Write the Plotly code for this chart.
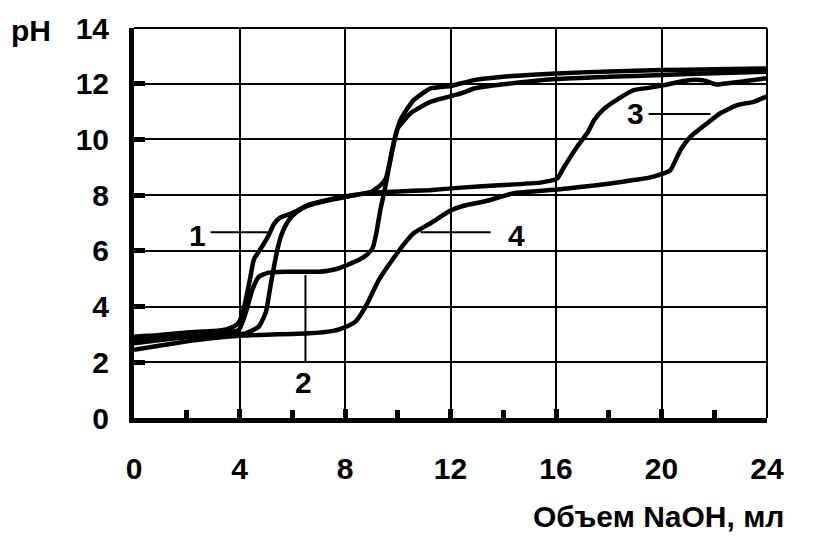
import plotly.graph_objects as go

# Titration curves: volume of NaOH (ml) vs pH
vol_1 = [0, 1, 2, 3, 3.5, 3.9, 4.1, 4.25, 4.4, 4.55, 4.75, 4.95, 5.1, 5.3, 5.55, 5.9, 6.2, 6.6,
         7.3, 8.0, 8.8, 10.0, 11.2, 12.4, 14.0, 15.4, 15.8, 16.05, 16.3, 16.8, 17.2, 17.45, 17.8,
         18.3, 18.95, 19.5, 20.1, 20.6, 21.1, 21.6, 22.1, 22.5, 23.0, 24.0]
ph_1 = [2.92, 2.98, 3.07, 3.12, 3.18, 3.35, 3.7, 4.3, 5.0, 5.7, 6.0, 6.3, 6.55, 6.95, 7.2, 7.32,
        7.45, 7.65, 7.82, 7.95, 8.07, 8.13, 8.18, 8.27, 8.36, 8.45, 8.52, 8.6, 9.0, 9.74, 10.25,
        10.7, 11.08, 11.42, 11.77, 11.85, 11.95, 12.05, 12.13, 12.12, 11.97, 12.02, 12.07, 12.2]

vol_2 = [0, 1, 2, 3, 3.97, 4.23, 4.48, 4.73, 5.11, 5.74, 7.0, 7.64, 8.52, 8.85, 9.05, 9.2, 9.34,
         9.53, 9.72, 9.91, 10.1, 10.6, 11.24, 12.0, 12.9, 14.0, 16.0, 18.0, 20.0, 22.0, 24.0]
ph_2 = [2.82, 2.9, 2.98, 3.05, 3.16, 3.76, 4.59, 5.07, 5.22, 5.25, 5.25, 5.34, 5.67, 5.88, 6.1,
        6.7, 7.47, 8.3, 9.26, 10.1, 10.7, 11.41, 11.83, 11.92, 12.13, 12.25, 12.37, 12.44, 12.49,
        12.52, 12.55]

vol_3 = [0, 1, 2, 3, 4.23, 4.73, 5.0, 5.15, 5.3, 5.45, 5.6, 5.8, 6.0, 6.2, 6.6, 7.3, 8.0, 8.5,
         9.0, 9.35, 9.55, 9.7, 9.85, 10.0, 10.5, 11.24, 12.4, 12.9, 14.0, 16.0, 18.0, 20.0, 22.0, 24.0]
ph_3 = [2.68, 2.8, 2.9, 2.98, 3.04, 3.28, 3.8, 4.6, 5.4, 6.1, 6.6, 7.0, 7.25, 7.42, 7.62, 7.8,
        7.93, 8.02, 8.12, 8.36, 8.6, 9.2, 9.9, 10.4, 10.95, 11.35, 11.65, 11.83, 11.98, 12.17,
        12.25, 12.31, 12.38, 12.43]

vol_4 = [0, 1, 2, 3, 4, 4.73, 6.63, 7.5, 7.89, 8.4, 8.78, 9.28, 9.79, 10.2, 10.6, 11.24, 12.0,
         12.5, 13.4, 14.4, 16.04, 17.0, 18.06, 19.0, 19.5, 20.08, 20.34, 20.72, 21.1, 21.73, 22.23,
         22.87, 23.5, 24.0]
ph_4 = [2.45, 2.6, 2.75, 2.87, 2.95, 2.98, 3.04, 3.12, 3.22, 3.46, 4.0, 4.95, 5.67, 6.2, 6.63,
        6.99, 7.45, 7.62, 7.8, 8.07, 8.2, 8.3, 8.42, 8.55, 8.62, 8.78, 8.9, 9.62, 10.1, 10.58,
        10.94, 11.23, 11.35, 11.55]

curves = [("1", vol_1, ph_1), ("2", vol_2, ph_2), ("3", vol_3, ph_3), ("4", vol_4, ph_4)]

# Curve numbers with their leader lines: (text, text x, text y, leader x0, y0, x1, y1)
curve_labels = [
    ("1", 2.41, 6.55, 2.9, 6.67, 5.1, 6.67),
    ("2", 6.43, 1.28, 6.5, 5.13, 6.5, 2.01),
    ("3", 19.01, 10.93, 19.51, 10.91, 21.86, 10.91),
    ("4", 14.5, 6.55, 10.86, 6.67, 13.52, 6.67),
]

x_ticks = [0, 4, 8, 12, 16, 20, 24]
y_ticks = [0, 2, 4, 6, 8, 10, 12, 14]

W, H = 813, 542
L, R, T, B = 134, 46, 28, 124
PW, PH = W - L - R, H - T - B


def paper_x(px):
    return (px - L) / PW


def paper_y(py):
    return (H - B - py) / PH


FONT = "Liberation Sans, Arial, sans-serif"

fig = go.Figure()
for name, xs, ys in curves:
    fig.add_trace(go.Scatter(
        x=xs, y=ys, mode="lines", name=name,
        line=dict(color="black", width=4.5, shape="spline", smoothing=0.5),
        showlegend=False, hoverinfo="skip",
    ))

for text, tx, ty, x0, y0, x1, y1 in curve_labels:
    fig.add_shape(type="line", x0=x0, y0=y0, x1=x1, y1=y1,
                  line=dict(color="black", width=2), layer="above")
    fig.add_annotation(x=tx, y=ty, text=text, showarrow=False,
                       font=dict(family=FONT, size=30, color="black", weight="bold"))

# thin frame on the top and right sides
fig.add_shape(type="line", xref="paper", yref="paper", x0=0, x1=1, y0=1, y1=1,
              line=dict(color="black", width=2))
fig.add_shape(type="line", xref="paper", yref="paper", x0=1, x1=1, y0=0, y1=1,
              line=dict(color="black", width=2))

fig.add_annotation(xref="paper", yref="paper", x=paper_x(31), y=paper_y(31), text="pH",
                   showarrow=False, xanchor="center", yanchor="middle",
                   font=dict(family=FONT, size=30, color="black", weight="bold"))
fig.add_annotation(xref="paper", yref="paper", x=paper_x(786), y=paper_y(516),
                   text="Объем NaOH, мл", showarrow=False, xanchor="right", yanchor="middle",
                   font=dict(family=FONT, size=30, color="black", weight="bold"))

tick_font = dict(family=FONT, size=30, color="black", weight="bold")

fig.update_layout(
    width=W, height=H,
    margin=dict(l=L, r=R, t=T, b=B, pad=0),
    paper_bgcolor="white", plot_bgcolor="white",
    xaxis=dict(
        range=[0, 24], tickvals=x_ticks, ticktext=[str(v) for v in x_ticks],
        showgrid=True, gridcolor="black", gridwidth=2,
        showline=True, linecolor="black", linewidth=5, zeroline=False,
        ticks="inside", ticklen=9, tickwidth=5, tickcolor="black",
        minor=dict(dtick=2, tick0=0, ticks="inside", ticklen=8, tickwidth=5,
                   tickcolor="black", showgrid=False),
        tickfont=tick_font, ticklabelstandoff=20, fixedrange=True,
    ),
    yaxis=dict(
        range=[0, 14], tickvals=y_ticks, ticktext=[str(v) for v in y_ticks],
        showgrid=True, gridcolor="black", gridwidth=2,
        showline=True, linecolor="black", linewidth=5, zeroline=False,
        ticks="inside", ticklen=11, tickwidth=5, tickcolor="black",
        tickfont=tick_font, ticklabelstandoff=14, fixedrange=True,
    ),
)

fig.write_html("out.html")
